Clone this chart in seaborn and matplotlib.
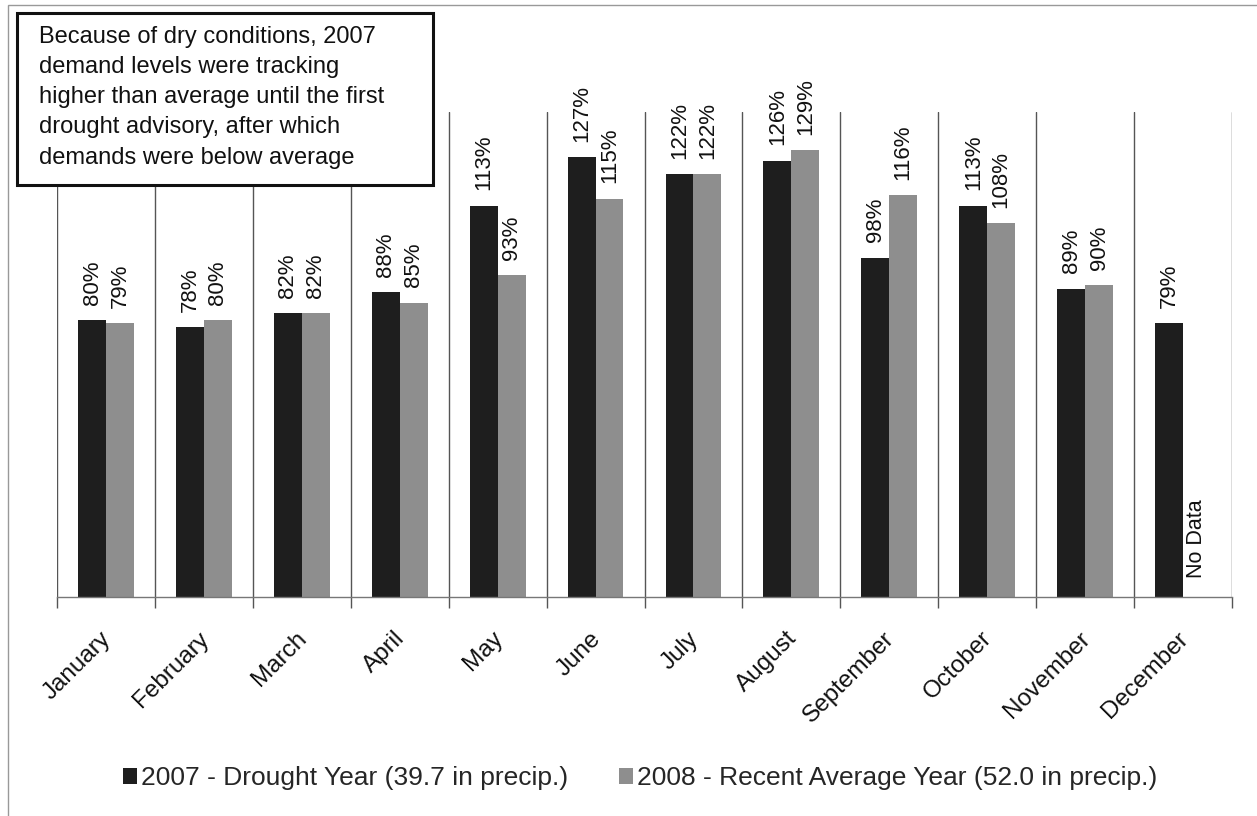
import numpy as np
import pandas as pd
import matplotlib
matplotlib.use("Agg")
import matplotlib.pyplot as plt
from matplotlib.patches import Rectangle
from matplotlib.ticker import FixedLocator
from matplotlib.transforms import ScaledTranslation
import seaborn as sns

sns.set_theme(style="white")
plt.rcParams["font.family"] = ["Liberation Sans", "DejaVu Sans"]

months = ["January", "February", "March", "April", "May", "June", "July",
          "August", "September", "October", "November", "December"]
demand_2007 = [80, 78, 82, 88, 113, 127, 122, 126, 98, 113, 89, 79]
demand_2008 = [79, 80, 82, 85, 93, 115, 122, 129, 116, 108, 90, np.nan]
series_names = ["2007 - Drought Year (39.7 in precip.)",
                "2008 - Recent Average Year (52.0 in precip.)"]
note = ("Because of dry conditions, 2007\n"
        "demand levels were tracking\n"
        "higher than average until the first\n"
        "drought advisory, after which\n"
        "demands were below average")

df = pd.DataFrame({
    "month": months * 2,
    "series": [series_names[0]] * 12 + [series_names[1]] * 12,
    "demand": demand_2007 + demand_2008,
})

W, H = 1257, 816
fig = plt.figure(figsize=(W / 100, H / 100), dpi=100)
ax = fig.add_axes([57 / W, 1 - 597 / H, (1232 - 57) / W, (597 - 112) / H])

palette = {series_names[0]: "#1e1e1e", series_names[1]: "#8e8e8e"}
sns.barplot(data=df, x="month", y="demand", hue="series", order=months,
            hue_order=series_names, palette=palette, width=0.57,
            saturation=1, ax=ax, legend=True, edgecolor="none", linewidth=0)

ax.set_ylim(0, 140)
ax.set_xlim(-0.5, 11.5)
ax.set_xlabel("")
ax.set_ylabel("")
ax.set_yticks([])

# category boundaries as vertical separators
ax.xaxis.set_minor_locator(FixedLocator(np.arange(-0.5, 12, 1.0)))
ax.grid(which="minor", axis="x", color="#555555", linewidth=1.0)
ax.tick_params(axis="x", which="minor", length=8, width=1.0, color="#555555",
               direction="out", bottom=True)
ax.tick_params(axis="x", which="major", length=0, pad=22)
for sp in ["top", "right", "left"]:
    ax.spines[sp].set_visible(False)
ax.spines["bottom"].set_color("#777777")
ax.spines["bottom"].set_linewidth(1.0)

shift = ScaledTranslation(-6 / 100, 0, fig.dpi_scale_trans)
for lab in ax.get_xticklabels():
    lab.set_rotation(45)
    lab.set_ha("right")
    lab.set_rotation_mode("anchor")
    lab.set_fontsize(17.5)
    lab.set_color("#111111")
    lab.set_transform(lab.get_transform() + shift)

# rotated value labels above each bar
for container in ax.containers:
    labels = []
    for bar in container:
        h = bar.get_height()
        labels.append("" if np.isnan(h) else f"{int(round(h))}%")
    ax.bar_label(container, labels=labels, rotation=90, padding=11,
                 fontsize=16, color="#111111")

# December has no 2008 value: mark the empty slot
dec_bar = ax.containers[0][11]
dec_x = dec_bar.get_x() + dec_bar.get_width() * 1.5
ax.text(dec_x, 5.5, "No Data", rotation=90, ha="center", va="bottom",
        fontsize=15.5, color="#111111")

# legend along the bottom
handles, lbls = ax.get_legend_handles_labels()
ax.legend_.remove()
fig.legend(handles, lbls, loc="center", bbox_to_anchor=(640 / W, 1 - 778 / H),
           ncol=2, frameon=False, fontsize=19, handlelength=0.55,
           handleheight=0.55, handletextpad=0.15, columnspacing=1.9)

# annotation box
fig.patches.append(Rectangle((17 / W, 1 - 185 / H), (433 - 17) / W, (185 - 13) / H,
                             transform=fig.transFigure, facecolor="white",
                             edgecolor="#111111", linewidth=2.2, zorder=5))
fig.text(39 / W, 1 - 26 / H, note, ha="left", va="top", fontsize=17,
         linespacing=1.48, color="#111111", zorder=6)

# outer frame of the chart area
fig.patches.append(Rectangle((8 / W, -0.05), 1.2, 1 - 5 / H + 0.05,
                             transform=fig.transFigure, facecolor="none",
                             edgecolor="#999999", linewidth=1.0, zorder=0))

fig.savefig("out.png", dpi=100)
